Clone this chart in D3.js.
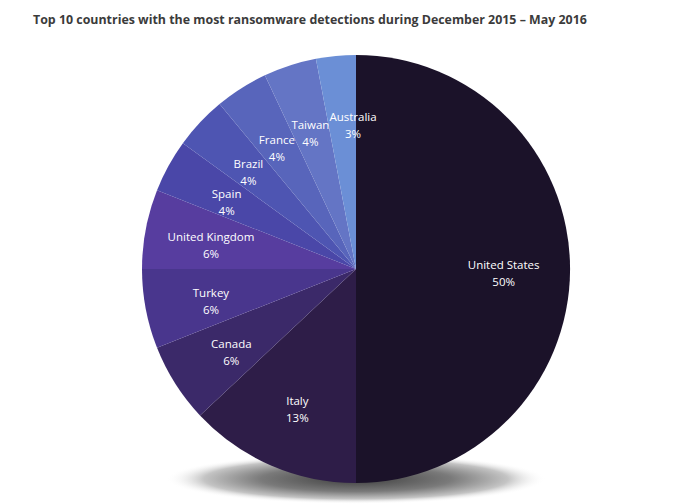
<!DOCTYPE html>
<html>
<head>
<meta charset="utf-8">
<script src="https://cdn.jsdelivr.net/npm/d3@7.9.0/dist/d3.min.js"></script>
<style>
  body { margin: 0; background: #fff; }
  svg { display: block; }
</style>
</head>
<body>
<div id="chart"></div>
<script>
const countries = ['United States', 'Italy', 'Canada', 'Turkey', 'United Kingdom',
  'Spain', 'Brazil', 'France', 'Taiwan', 'Australia'];
const shares = [50, 13, 6, 6, 6, 4, 4, 4, 4, 3];
const sliceColors = ['#1b1229', '#2e1d48', '#3b2969', '#49368d', '#573d9f',
  '#4a47a8', '#4e55b2', '#5865bb', '#6475c5', '#6b8fd6'];

const width = 680;
const height = 504;
const cx = 356;
const cy = 269;
const radius = 214;

const svg = d3.select('#chart')
  .append('svg')
  .attr('width', width)
  .attr('height', height)
  .attr('viewBox', `0 0 ${width} ${height}`);

svg.append('text')
  .attr('x', 33)
  .attr('y', 24)
  .attr('font-family', 'Open Sans')
  .attr('font-weight', 700)
  .attr('font-size', 12.4)
  .attr('fill', '#3b3b3b')
  .text('Top 10 countries with the most ransomware detections during December 2015 – May 2016');

// soft shadow under the pie
const grad = svg.append('defs')
  .append('radialGradient')
  .attr('id', 'shadow');
grad.append('stop').attr('offset', '0%').attr('stop-color', '#3e3e3e');
grad.append('stop').attr('offset', '50%').attr('stop-color', '#7a7a7a');
grad.append('stop').attr('offset', '80%').attr('stop-color', '#c4c4c4');
grad.append('stop').attr('offset', '100%').attr('stop-color', '#ffffff').attr('stop-opacity', 0);

svg.append('ellipse')
  .attr('cx', cx)
  .attr('cy', 479)
  .attr('rx', 190)
  .attr('ry', 25)
  .attr('fill', 'url(#shadow)');

const pie = d3.pie().sort(null).value((d) => d.value);
const arcs = pie(countries.map((name, i) => ({ name, value: shares[i], color: sliceColors[i] })));

const arc = d3.arc().innerRadius(0).outerRadius(radius);
const labelR = radius * 0.69;
const lineGap = 17;

const g = svg.append('g').attr('transform', `translate(${cx}, ${cy})`);

g.selectAll('path')
  .data(arcs)
  .join('path')
  .attr('d', arc)
  .attr('fill', (d) => d.data.color);

const labels = g.selectAll('text')
  .data(arcs)
  .join('text')
  .attr('text-anchor', 'middle')
  .attr('font-family', 'Open Sans')
  .attr('font-size', 11.5)
  .attr('fill', '#fff');

labels.append('tspan')
  .attr('class', 'name')
  .attr('x', 0)
  .attr('dy', 0)
  .text((d) => d.data.name);

labels.append('tspan')
  .attr('class', 'pct')
  .attr('x', 0)
  .attr('dy', lineGap)
  .text((d) => d.data.value + '%');

// put each label at its slice's mid angle; if its text lines run into an earlier
// label, slide it clockwise a little (like the small Australia slice)
const placed = [];
const pos = (ang) => [Math.sin(ang) * labelR, -Math.cos(ang) * labelR];
const lineBoxes = (x, y, w1, w2) => [
  { x0: x - w1 / 2, x1: x + w1 / 2, y0: y - 9, y1: y + 1 },
  { x0: x - w2 / 2, x1: x + w2 / 2, y0: y + lineGap - 9, y1: y + lineGap + 1 },
];
const hits = (boxes) => boxes.some((b) => placed.some((p) =>
  b.x0 < p.x1 && b.x1 > p.x0 && b.y0 < p.y1 && b.y1 > p.y0));

labels.each(function (d) {
  const el = d3.select(this);
  const w1 = el.select('.name').node().getComputedTextLength();
  const w2 = el.select('.pct').node().getComputedTextLength();
  let a = (d.startAngle + d.endAngle) / 2;
  let tries = 0;
  while (hits(lineBoxes(...pos(a), w1, w2)) && tries < 60) {
    a += 0.002;
    tries++;
  }
  el.attr('transform', `translate(${pos(a)})`);
  placed.push(...lineBoxes(...pos(a), w1, w2));
});
</script>
</body>
</html>
